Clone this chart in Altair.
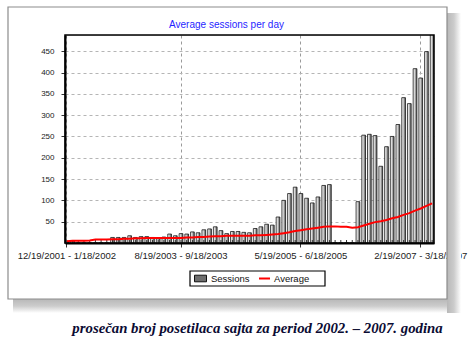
import altair as alt
import pandas as pd

# ---- data ----
start_month, start_year = 12, 2001
n_months = 65
months = []
for i in range(n_months):
    m = (start_month - 1 + i) % 12 + 1
    y = start_year + (start_month - 1 + i) // 12
    m2 = m % 12 + 1
    y2 = y + (1 if m == 12 else 0)
    months.append(f"{m}/19/{y} - {m2}/18/{y2}")

tick_labels = ["12/19/2001 - 1/18/2002", "8/19/2003 - 9/18/2003",
               "5/19/2005 - 6/18/2005", "2/19/2007 - 3/18/2007"]

sessions = [2, 5, 0, 0, 0, 0, 0, 0, 13, 13,
            13, 17, 13, 15, 15, 13, 10, 14, 21, 17,
            22, 21, 26, 24, 31, 33, 38, 29, 22, 27,
            27, 25, 24, 34, 38, 44, 42, 61, 100, 116,
            131, 116, 105, 94, 108, 135, 137, 0, 0, 0,
            0, 97, 253, 255, 252, 180, 226, 250, 278, 341,
            327, 409, 387, 449, 495]

average = [4, 5, 5, 5, 6, 8, 8, 8, 9, 9,
           10, 10, 11, 11, 12, 12, 12, 12, 12, 12,
           12, 13, 13, 14, 14, 15, 16, 16, 17, 17,
           17, 17, 17, 18, 18, 19, 20, 21, 23, 25,
           28, 30, 32, 34, 36, 38, 39, 39, 38, 38,
           36, 37, 41, 45, 49, 51, 54, 58, 61, 66,
           70, 76, 81, 87, 93]

y_ticks = [50, 100, 150, 200, 250, 300, 350, 400, 450]

title_text = "Average sessions per day"
caption_text = "prosečan broj posetilaca sajta za period 2002. – 2007. godina"

df = pd.DataFrame({"month": months, "Sessions": sessions, "Average": average,
                   "a": "Average"})
one = pd.DataFrame({"k": [0], "s": ["Sessions"]})

W, H = 369, 208
FONT = "Liberation Sans"

x_enc = alt.X("month:O",
              scale=alt.Scale(domain=months, paddingInner=0.35, paddingOuter=0),
              axis=alt.Axis(values=tick_labels, title=None, grid=True,
                            gridDash=[3, 3], gridColor="#9a9a9a", bandPosition=0.5,
                            tickSize=4, tickColor="#333333", labelAngle=0,
                            labelFont=FONT, labelFontSize=9.5, labelColor="#222222",
                            labelPadding=3, labelOverlap=False, labelBound=False,
                            domainColor="black", domainWidth=2))
y_scale = alt.Scale(domain=[0, 488], nice=False, zero=True)
y_axis = alt.Axis(values=y_ticks, title=None, grid=True, gridDash=[3, 3],
                  gridColor="#b5b5b5", tickSize=4, tickColor="#333333",
                  labelFont=FONT, labelFontSize=8, labelColor="#222222",
                  labelPadding=7, domainColor="black", domainWidth=2)

bar_grad = alt.Gradient(gradient="linear", x1=0, x2=1, y1=0, y2=0,
                        stops=[alt.GradientStop(offset=0, color="#ffffff"),
                               alt.GradientStop(offset=0.4, color="#d2d2d2"),
                               alt.GradientStop(offset=1, color="#4a4a4a")])

def rect(x, x2, y, y2, **kw):
    return alt.Chart(one).mark_rect(**kw).encode(
        x=alt.value(x), x2=alt.value(x2), y=alt.value(y), y2=alt.value(y2))

shadow_grad_r = alt.Gradient(gradient="linear", x1=0, x2=1, y1=0, y2=0,
                             stops=[alt.GradientStop(offset=0, color="#b8b8b8"),
                                    alt.GradientStop(offset=0.5, color="#cccccc"),
                                    alt.GradientStop(offset=1, color="#ffffff")])
shadow_grad_b = alt.Gradient(gradient="linear", x1=0, x2=0, y1=0, y2=1,
                             stops=[alt.GradientStop(offset=0, color="#b8b8b8"),
                                    alt.GradientStop(offset=0.5, color="#cccccc"),
                                    alt.GradientStop(offset=1, color="#ffffff")])

shadow_r = rect(382, 396, -22, 278, fill=shadow_grad_r)
shadow_b = rect(-52, 382, 264, 278, fill=shadow_grad_b)
frame = rect(-57, 382, -28, 264, fill="white", fillOpacity=0, stroke="#8c8c8c", strokeWidth=1.2)
legend_box = rect(125, 260, 236, 251, fill="white", stroke="black", strokeWidth=1.2)
plot_border = rect(0, W, 0, H, fill="white", fillOpacity=0, stroke="black", strokeWidth=1.5)

# zero-size source for the "Sessions" legend entry (solid grey symbol)
legend_src = alt.Chart(one).mark_rect().encode(
    x=alt.value(0), x2=alt.value(0), y=alt.value(H), y2=alt.value(H),
    color=alt.Color("s:N", scale=alt.Scale(domain=["Sessions"], range=["#6e6e6e"]),
                    legend=alt.Legend(orient="none", legendX=129, legendY=237, title=None,
                                      symbolType="M-1,-0.55L1,-0.55L1,0.55L-1,0.55Z",
                                      symbolSize=144, symbolStrokeColor="#111111",
                                      symbolStrokeWidth=1, symbolOpacity=1,
                                      labelFont=FONT, labelFontSize=9.5, labelColor="#111111",
                                      labelOffset=4, padding=0)))

bars = alt.Chart(df).mark_bar(fill=bar_grad, stroke="#1a1a1a", strokeWidth=0.8, clip=True).encode(
    x=x_enc,
    y=alt.Y("Sessions:Q", scale=y_scale, axis=y_axis),
)

month_ticks = alt.Chart(df).mark_rule(color="#333333", strokeWidth=1).encode(
    x=x_enc, y=alt.value(H - 3), y2=alt.value(H))

line = alt.Chart(df).mark_line(strokeWidth=2).encode(
    x=x_enc,
    y=alt.Y("Average:Q", scale=y_scale, axis=y_axis),
    stroke=alt.Stroke("a:N", scale=alt.Scale(domain=["Average"], range=["#ff0000"]),
                      legend=alt.Legend(orient="none", legendX=193, legendY=237, title=None,
                                        symbolType="stroke", symbolSize=121,
                                        symbolStrokeWidth=2,
                                        labelFont=FONT, labelFontSize=9.5, labelColor="#111111",
                                        labelOffset=3, padding=0)),
)

title = alt.Chart(one).mark_text(
    text=title_text, font=FONT, fontSize=10, color="#1f1fff",
    align="center", baseline="alphabetic").encode(x=alt.value(161.5), y=alt.value(-7))

caption = alt.Chart(one).mark_text(
    text=caption_text, font="Liberation Serif", fontSize=14.8, fontStyle="italic",
    fontWeight="bold", color="#0b0b33", align="center", baseline="alphabetic").encode(
    x=alt.value(192.5), y=alt.value(298))

chart = alt.layer(shadow_r, shadow_b, frame, legend_box, legend_src, bars, month_ticks,
                  line, plot_border, title, caption).properties(
    width=W, height=H,
    autosize=alt.AutoSizeParams(type="none"),
    padding={"left": 65, "top": 35, "right": 34, "bottom": 103},
).resolve_scale(color="independent", stroke="independent").configure_view(
    stroke="black", strokeWidth=1.5
).configure(background="white")

chart.save("out.html", embed_options={"renderer": "svg", "actions": False})
